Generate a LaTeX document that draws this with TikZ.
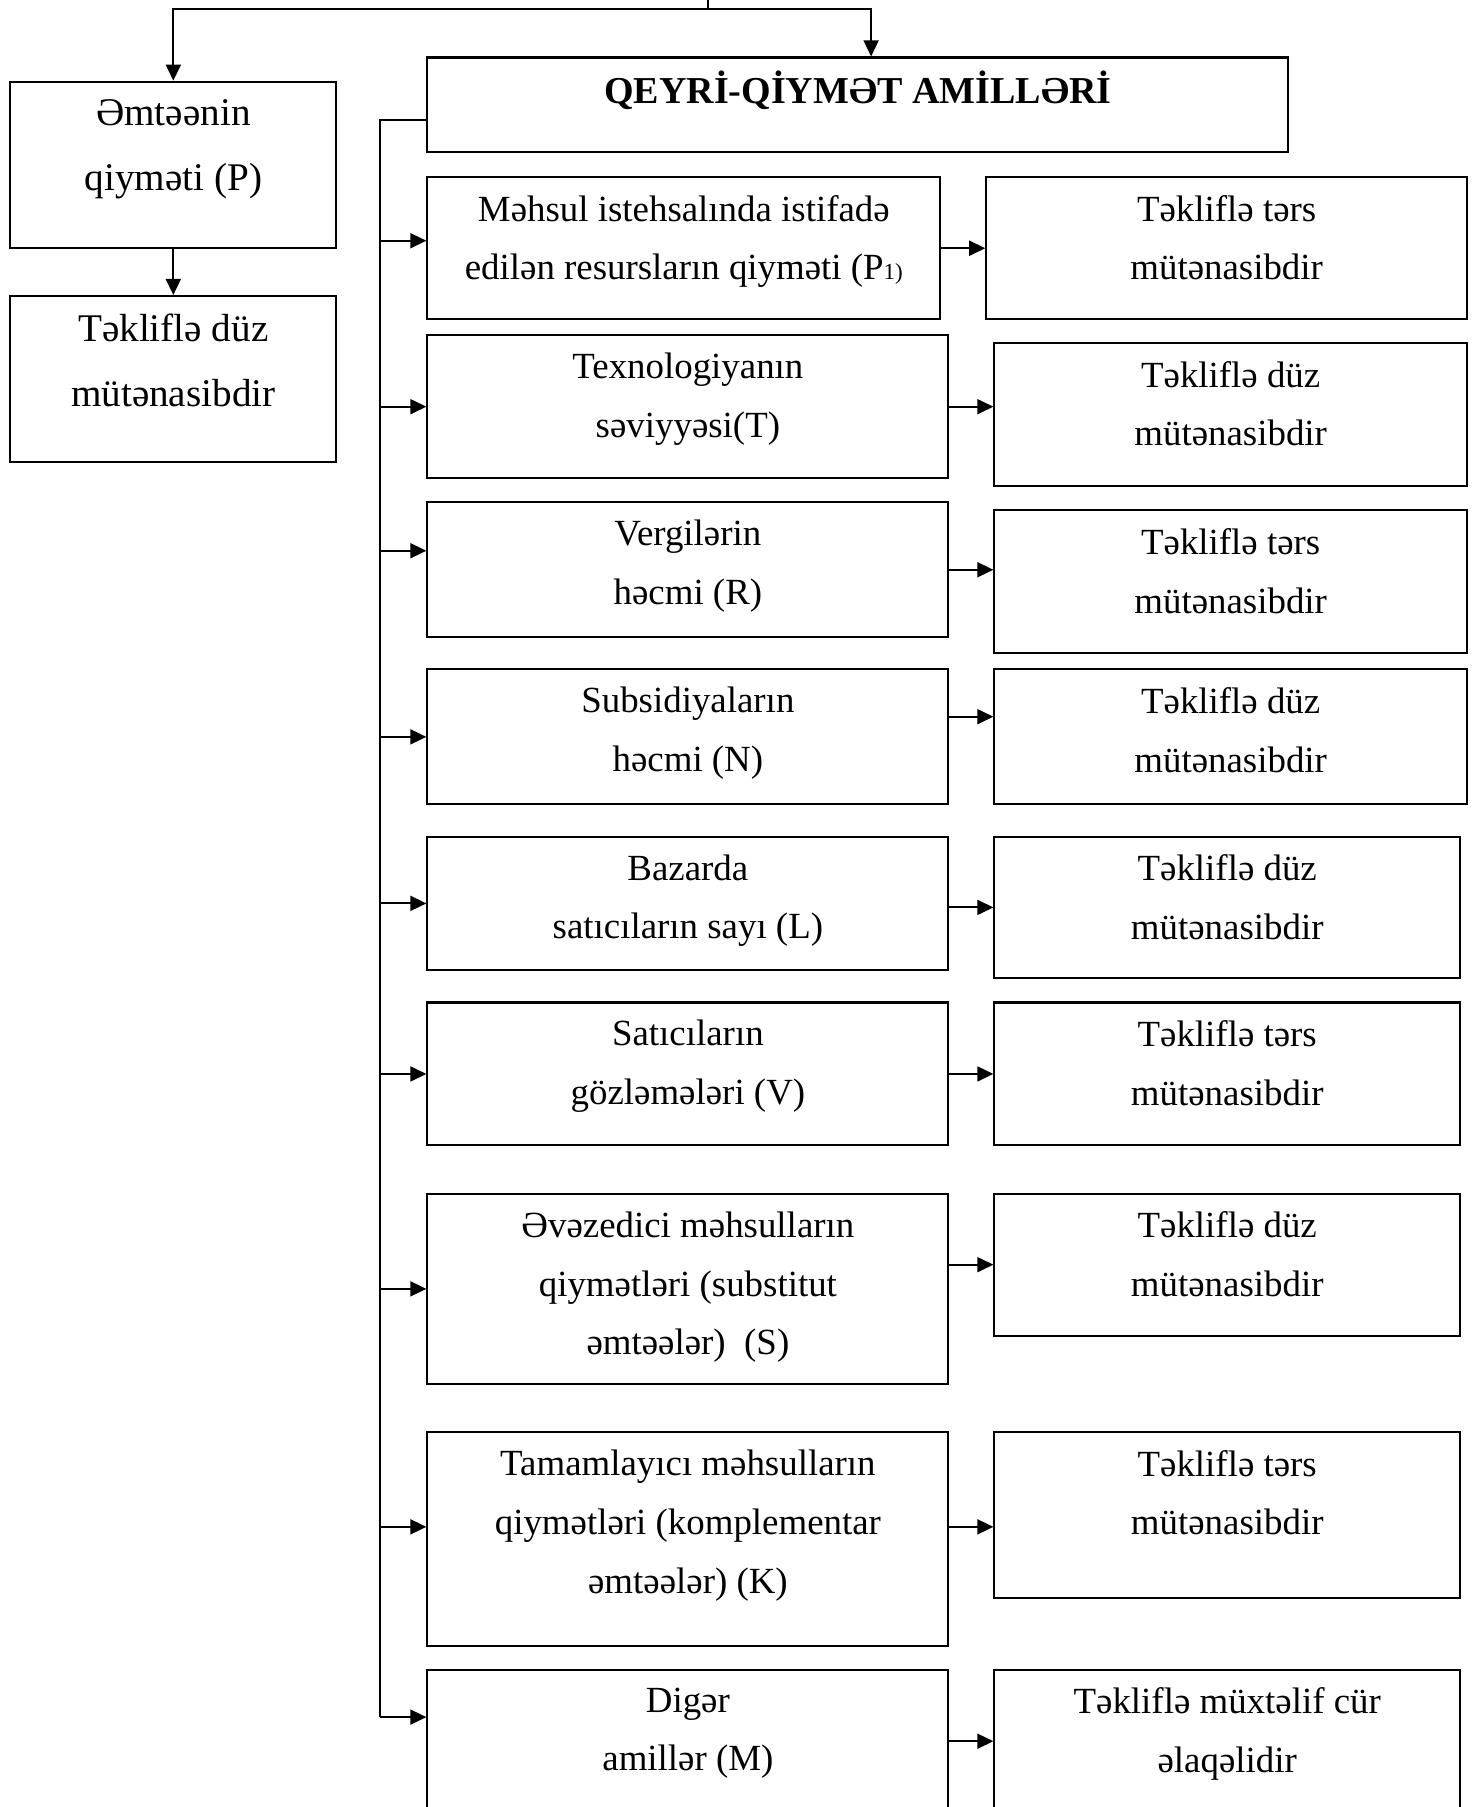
\documentclass[tikz,border=0pt]{standalone}
\usepackage{fontspec}
\setmainfont{Liberation Serif}
\usetikzlibrary{arrows.meta,positioning,calc}

\begin{document}
\begin{tikzpicture}[
      x=0.5pt,y=-0.5pt,
      framebox/.style={draw,line width=0.9pt,inner sep=0pt,anchor=north west},
      midbox/.style={framebox,minimum width=226pt},
      outbox/.style={framebox,minimum width=202pt},
      boxtext/.style={anchor=north,inner sep=0pt,align=center,font=\fontsize{16}{25.5}\selectfont},
      sidetext/.style={boxtext,font=\fontsize{17}{28}\selectfont},
      link/.style={line width=0.9pt},
      arr/.style={-{Triangle[length=7pt,width=6.5pt]},line width=0.9pt}
    ]
    \clip (0,0) rectangle (1283,1568);
    \coordinate (top) at (614,0);
    \coordinate (split) at (614,8);
    \coordinate (spine) at (330,1490);
    % left column
    \node[framebox,minimum width=141.5pt,minimum height=72pt] (price) at (8,70) {};
    \node[sidetext] (price-t) at ([yshift=-8pt]price.north) {Əmtəənin\\qiyməti (P)};
    \node[framebox,minimum width=141.5pt,minimum height=72pt] (pricedir) at (8,256) {};
    \node[sidetext] (pricedir-t) at ([yshift=-8pt]pricedir.north) {Təkliflə düz\\mütənasibdir};
    % title
    \node[framebox,minimum width=373.5pt,minimum height=41pt] (nonprice) at (370,49) {};
    \node[boxtext,font=\fontsize{16.5}{20}\selectfont\bfseries] (nonprice-t) at ([yshift=-6pt]nonprice.north) {QEYRİ-QİYMƏT AMİLLƏRİ};
    % factors
    \node[midbox,minimum width=222.5pt,minimum height=61.5pt] (res) at (370,153) {};
    \node[boxtext] (res-t) at ([yshift=-8pt]res.north) {Məhsul istehsalında istifadə\\edilən resursların qiyməti (P{\fontsize{10}{10}\selectfont 1)}};
    \node[midbox,minimum height=62pt] (tech) at (370,290) {};
    \node[boxtext] (tech-t) at ([yshift=-8pt]tech.north) {Texnologiyanın\\səviyyəsi(T)};
    \node[midbox,minimum height=58.5pt] (tax) at (370,435) {};
    \node[boxtext] (tax-t) at ([yshift=-8pt]tax.north) {Vergilərin\\həcmi (R)};
    \node[midbox,minimum height=58.5pt] (sub) at (370,580) {};
    \node[boxtext] (sub-t) at ([yshift=-8pt]sub.north) {Subsidiyaların\\həcmi (N)};
    \node[midbox,minimum height=58pt] (sell) at (370,725) {};
    \node[boxtext] (sell-t) at ([yshift=-8pt]sell.north) {Bazarda\\satıcıların sayı (L)};
    \node[midbox,minimum height=62pt] (expc) at (370,869) {};
    \node[boxtext] (expc-t) at ([yshift=-8pt]expc.north) {Satıcıların\\gözləmələri (V)};
    \node[midbox,minimum height=82.5pt] (subst) at (370,1035) {};
    \node[boxtext] (subst-t) at ([yshift=-8pt]subst.north) {Əvəzedici məhsulların\\qiymətləri (substitut\\əmtəələr)~~(S)};
    \node[midbox,minimum height=92.5pt] (compl) at (370,1242) {};
    \node[boxtext] (compl-t) at ([yshift=-8pt]compl.north) {Tamamlayıcı məhsulların\\qiymətləri (komplementar\\əmtəələr) (K)};
    \node[midbox,minimum height=80pt] (other) at (370,1448) {};
    \node[boxtext] (other-t) at ([yshift=-8pt]other.north) {Digər\\amillər (M)};
    % effects
    \node[outbox,minimum width=208.5pt,minimum height=61.5pt] (res-out) at (855,153) {};
    \node[boxtext] (res-out-t) at ([yshift=-8pt]res-out.north) {Təkliflə tərs\\mütənasibdir};
    \node[outbox,minimum width=205pt,minimum height=62pt] (tech-out) at (862,297) {};
    \node[boxtext] (tech-out-t) at ([yshift=-8pt]tech-out.north) {Təkliflə düz\\mütənasibdir};
    \node[outbox,minimum width=205pt,minimum height=62pt] (tax-out) at (862,442) {};
    \node[boxtext] (tax-out-t) at ([yshift=-8pt]tax-out.north) {Təkliflə tərs\\mütənasibdir};
    \node[outbox,minimum width=205pt,minimum height=58.5pt] (sub-out) at (862,580) {};
    \node[boxtext] (sub-out-t) at ([yshift=-8pt]sub-out.north) {Təkliflə düz\\mütənasibdir};
    \node[outbox,minimum height=61.5pt] (sell-out) at (862,725) {};
    \node[boxtext] (sell-out-t) at ([yshift=-8pt]sell-out.north) {Təkliflə düz\\mütənasibdir};
    \node[outbox,minimum height=62pt] (expc-out) at (862,869) {};
    \node[boxtext] (expc-out-t) at ([yshift=-8pt]expc-out.north) {Təkliflə tərs\\mütənasibdir};
    \node[outbox,minimum height=61.5pt] (subst-out) at (862,1035) {};
    \node[boxtext] (subst-out-t) at ([yshift=-8pt]subst-out.north) {Təkliflə düz\\mütənasibdir};
    \node[outbox,minimum height=72pt] (compl-out) at (862,1242) {};
    \node[boxtext] (compl-out-t) at ([yshift=-8pt]compl-out.north) {Təkliflə tərs\\mütənasibdir};
    \node[outbox,minimum height=80pt] (other-out) at (862,1448) {};
    \node[boxtext] (other-out-t) at ([yshift=-8pt]other-out.north) {Təkliflə müxtəlif cür\\əlaqəlidir};
    % connectors
    \draw[link] (top) -- (split);
    \draw[arr] (split) -| (price.north);
    \draw[arr] (split) -| ([xshift=5.75pt]nonprice.north);
    \draw[arr] (price) -- (pricedir);
    \draw[link] ([yshift=-6.5pt]nonprice.west) -| (spine);
    \draw[arr] ([yshift=3.25pt]res.west -| spine) -- ([yshift=3.25pt]res.west);
    \draw[arr] (tech.west -| spine) -- (tech.west);
    \draw[arr] ([yshift=8.25pt]tax.west -| spine) -- ([yshift=8.25pt]tax.west);
    \draw[arr] (sub.west -| spine) -- (sub.west);
    \draw[arr] (sell.west -| spine) -- (sell.west);
    \draw[arr] (expc.west -| spine) -- (expc.west);
    \draw[arr] (subst.west -| spine) -- (subst.west);
    \draw[arr] ([yshift=5.25pt]compl.west -| spine) -- ([yshift=5.25pt]compl.west);
    \draw[arr] (spine) -- (spine -| other.west);
    \draw[arr] (res) -- (res-out);
    \draw[arr] (tech.east) -- (tech.east -| tech-out.west);
    \draw[arr] (tax.east) -- (tax.east -| tax-out.west);
    \draw[arr] ([yshift=8.75pt]sub.east) -- ([yshift=8.75pt]sub.east -| sub-out.west);
    \draw[arr] (sell-out.west -| sell.east) -- (sell-out.west);
    \draw[arr] (expc) -- (expc-out);
    \draw[arr] (subst-out.west -| subst.east) -- (subst-out.west);
    \draw[arr] ([yshift=5.25pt]compl.east) -- ([yshift=5.25pt]compl.east -| compl-out.west);
    \draw[arr] ([yshift=9pt]other.east) -- ([yshift=9pt]other.east -| other-out.west);
  \end{tikzpicture}
\end{document}
